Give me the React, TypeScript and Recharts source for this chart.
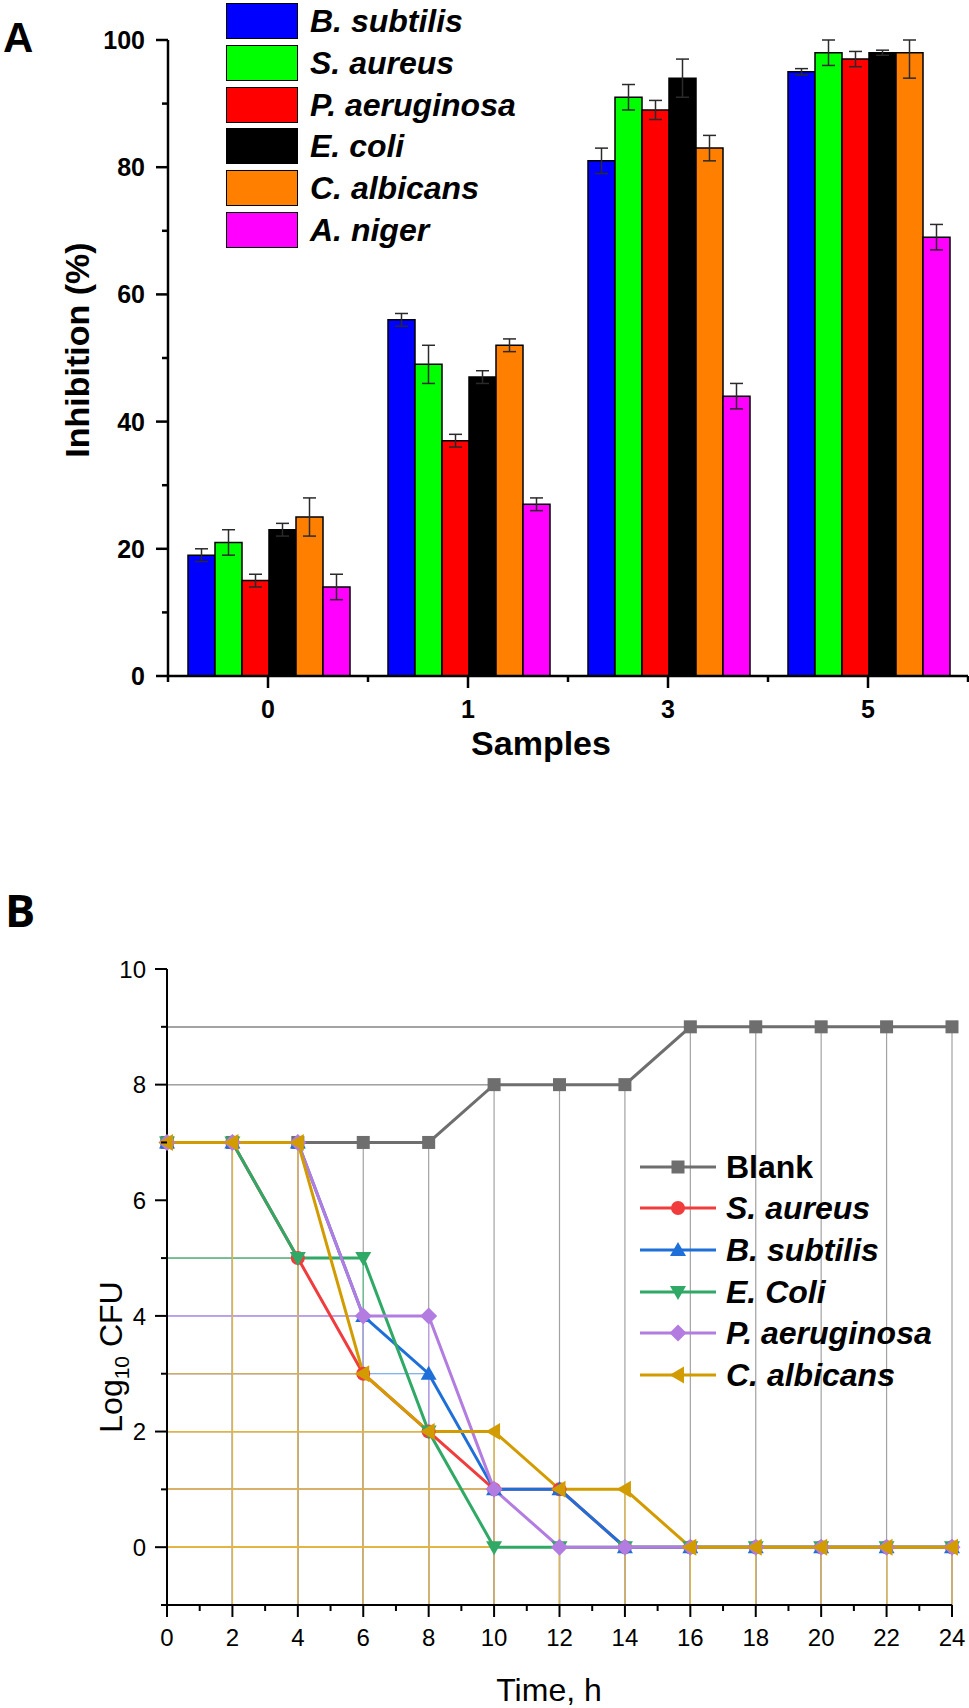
import React from 'react';
import { Bar, BarChart, ErrorBar, Label, Line, LineChart, ReferenceLine, XAxis, YAxis } from 'recharts';

// Panel A: inhibition (%) per sample
const samples = ['0', '1', '3', '5'];
const bSubtilisInh = [19, 56, 81, 95];
const bSubtilisErr = [1, 1, 2, 0.5];
const sAureusInh = [21, 49, 91, 98];
const sAureusErr = [2, 3, 2, 2];
const pAeruginosaInh = [15, 37, 89, 97];
const pAeruginosaErr = [1, 1, 1.5, 1.2];
const eColiInh = [23, 47, 94, 98];
const eColiErr = [1, 1, 3, 0.4];
const cAlbicansInh = [25, 52, 83, 98];
const cAlbicansErr = [3, 1, 2, 4];
const aNigerInh = [14, 27, 44, 69];
const aNigerErr = [2, 1, 2, 2];
const inhibitionTicks = [0, 10, 20, 30, 40, 50, 60, 70, 80, 90, 100];
const INHIBITION_MAX = 100;

// Panel B: time-kill, Log10 CFU
const hours = [0, 2, 4, 6, 8, 10, 12, 14, 16, 18, 20, 22, 24];
const blankCfu = [7, 7, 7, 7, 7, 8, 8, 8, 9, 9, 9, 9, 9];
const sAureusCfu = [7, 7, 5, 3, 2, 1, 1, 0, 0, 0, 0, 0, 0];
const bSubtilisCfu = [7, 7, 7, 4, 3, 1, 1, 0, 0, 0, 0, 0, 0];
const eColiCfu = [7, 7, 5, 5, 2, 0, 0, 0, 0, 0, 0, 0, 0];
const pAeruginosaCfu = [7, 7, 7, 4, 4, 1, 0, 0, 0, 0, 0, 0, 0];
const cAlbicansCfu = [7, 7, 7, 3, 2, 2, 1, 1, 0, 0, 0, 0, 0];
const timeTicks = [0, 1, 2, 3, 4, 5, 6, 7, 8, 9, 10, 11, 12, 13, 14, 15, 16, 17, 18, 19, 20, 21, 22, 23, 24];
const cfuTicks = [-1, 0, 1, 2, 3, 4, 5, 6, 7, 8, 9, 10];
const CFU_MIN = -1;

const FONT = '"Liberation Sans", Arial, Helvetica, sans-serif';

const barSeries = [
  { key: 'bSubtilis', name: 'B. subtilis', color: '#0000ff', values: bSubtilisInh, errors: bSubtilisErr },
  { key: 'sAureus', name: 'S. aureus', color: '#00ff00', values: sAureusInh, errors: sAureusErr },
  { key: 'pAeruginosa', name: 'P. aeruginosa', color: '#ff0000', values: pAeruginosaInh, errors: pAeruginosaErr },
  { key: 'eColi', name: 'E. coli', color: '#000000', values: eColiInh, errors: eColiErr },
  { key: 'cAlbicans', name: 'C. albicans', color: '#ff8000', values: cAlbicansInh, errors: cAlbicansErr },
  { key: 'aNiger', name: 'A. niger', color: '#ff00ff', values: aNigerInh, errors: aNigerErr },
];

const lineSeries = [
  { key: 'blank', name: 'Blank', italic: false, color: '#6e6e6e', drop: '#a2a2a2', marker: 'square', values: blankCfu },
  { key: 'sAureus', name: 'S. aureus', italic: true, color: '#f03c3c', drop: '#f27a7a', marker: 'circle', values: sAureusCfu },
  { key: 'bSubtilis', name: 'B. subtilis', italic: true, color: '#1f6fd8', drop: '#5e98e6', marker: 'up', values: bSubtilisCfu },
  { key: 'eColi', name: 'E. Coli', italic: true, color: '#30a866', drop: '#62c08e', marker: 'down', values: eColiCfu },
  { key: 'pAeruginosa', name: 'P. aeruginosa', italic: true, color: '#b27ce0', drop: '#c29ce8', marker: 'diamond', values: pAeruginosaCfu },
  { key: 'cAlbicans', name: 'C. albicans', italic: true, color: '#d29c00', drop: '#e3b540', marker: 'left', values: cAlbicansCfu },
];

// error bars are cut at the top of the axis, like the original plot
const inhibitionData = samples.map((sample, i) => {
  const row: Record<string, any> = { sample };
  barSeries.forEach((s) => {
    row[s.key] = s.values[i];
    row[`${s.key}Err`] = [s.errors[i], Math.min(s.errors[i], INHIBITION_MAX - s.values[i])];
  });
  return row;
});

const cfuData = hours.map((t, i) => {
  const row: Record<string, number> = { t };
  lineSeries.forEach((s) => {
    row[s.key] = s.values[i];
  });
  return row;
});

// chart geometry
const A_W = 969;
const A_H = 780;
const A_MARGIN = { top: 40, right: 1, bottom: 0, left: 88 };
const A_YAXIS_W = 80;
const A_BAND_HALF = (A_W - A_MARGIN.left - A_YAXIS_W - A_MARGIN.right) / samples.length / 2;

const B_TOP = 800;
const B_W = 969;
const B_H = 908;

const Marker = ({ shape, cx, cy, color }: { shape: string; cx: number; cy: number; color: string }) => {
  switch (shape) {
    case 'square':
      return <rect x={cx - 6.5} y={cy - 6.5} width={13} height={13} fill={color} />;
    case 'circle':
      return <circle cx={cx} cy={cy} r={7} fill={color} />;
    case 'up':
      return <polygon points={`${cx},${cy - 8} ${cx - 8},${cy + 6} ${cx + 8},${cy + 6}`} fill={color} />;
    case 'down':
      return <polygon points={`${cx},${cy + 8} ${cx - 8},${cy - 6} ${cx + 8},${cy - 6}`} fill={color} />;
    case 'diamond':
      return <polygon points={`${cx},${cy - 8.5} ${cx + 8.5},${cy} ${cx},${cy + 8.5} ${cx - 8.5},${cy}`} fill={color} />;
    default:
      return <polygon points={`${cx - 8.5},${cy} ${cx + 6},${cy - 8.5} ${cx + 6},${cy + 8.5}`} fill={color} />;
  }
};

const InhibitionTick = (props: any) => {
  const { x, y, payload } = props;
  const major = payload.value % 20 === 0;
  return (
    <g>
      <line x1={x} x2={x - (major ? 12 : 6)} y1={y} y2={y} stroke="#000" strokeWidth={2.5} />
      {major && (
        <text x={x - 23} y={y} dy="0.36em" textAnchor="end" fontSize={25} fontWeight="bold" fontFamily={FONT} fill="#000">
          {payload.value}
        </text>
      )}
    </g>
  );
};

const SampleTick = (props: any) => {
  const { x, y, payload, index } = props;
  const last = index === samples.length - 1;
  return (
    <g>
      <line x1={x} x2={x} y1={y} y2={y + 12} stroke="#000" strokeWidth={2.5} />
      <line x1={x - A_BAND_HALF} x2={x - A_BAND_HALF} y1={y} y2={y + 6} stroke="#000" strokeWidth={2.5} />
      {last && <line x1={x + A_BAND_HALF} x2={x + A_BAND_HALF} y1={y} y2={y + 6} stroke="#000" strokeWidth={2.5} />}
      <text x={x} y={y + 42} textAnchor="middle" fontSize={25} fontWeight="bold" fontFamily={FONT} fill="#000">
        {payload.value}
      </text>
    </g>
  );
};

const CfuTick = (props: any) => {
  const { x, y, payload } = props;
  const major = payload.value >= 0 && payload.value % 2 === 0;
  return (
    <g>
      <line x1={x} x2={x - (major ? 12 : 6)} y1={y} y2={y} stroke="#000" strokeWidth={2} />
      {major && (
        <text x={x - 21} y={y} dy="0.36em" textAnchor="end" fontSize={24} fontFamily={FONT} fill="#000">
          {payload.value}
        </text>
      )}
    </g>
  );
};

const TimeTick = (props: any) => {
  const { x, y, payload } = props;
  const major = payload.value % 2 === 0;
  return (
    <g>
      <line x1={x} x2={x} y1={y} y2={y + (major ? 12 : 6)} stroke="#000" strokeWidth={2} />
      {major && (
        <text x={x} y={y + 41} textAnchor="middle" fontSize={24} fontFamily={FONT} fill="#000">
          {payload.value}
        </text>
      )}
    </g>
  );
};

const App: React.FC = () => {
  return (
    <div style={{ position: 'absolute', left: 0, top: 0, width: 969, height: 1708, background: '#fff', fontFamily: FONT, overflow: 'hidden' }}>
      {/* Panel A */}
      <div style={{ position: 'absolute', left: 0, top: 0 }}>
        <BarChart width={A_W} height={A_H} data={inhibitionData} margin={A_MARGIN} barCategoryGap="10%" barGap={0}>
          <XAxis
            dataKey="sample"
            height={A_H - 676}
            interval={0}
            tickSize={0}
            tickMargin={0}
            tick={(p: any) => <SampleTick {...p} />}
            axisLine={{ stroke: '#000', strokeWidth: 2.5 }}
            tickLine={false}
          >
            <Label
              content={() => (
                <text x={541} y={755} textAnchor="middle" fontSize={34} fontWeight="bold" fontFamily={FONT} fill="#000">
                  Samples
                </text>
              )}
            />
          </XAxis>
          <YAxis
            width={A_YAXIS_W}
            type="number"
            domain={[0, INHIBITION_MAX]}
            allowDataOverflow
            ticks={inhibitionTicks}
            interval={0}
            tickSize={0}
            tickMargin={0}
            tick={(p: any) => <InhibitionTick {...p} />}
            axisLine={{ stroke: '#000', strokeWidth: 2.5 }}
            tickLine={false}
          >
            <Label
              content={() => (
                <text transform="translate(89,350) rotate(-90)" textAnchor="middle" fontSize={34} fontWeight="bold" fontFamily={FONT} fill="#000">
                  Inhibition (%)
                </text>
              )}
            />
          </YAxis>
          {barSeries.map((s) => (
            <Bar key={s.key} dataKey={s.key} name={s.name} fill={s.color} stroke="#000" strokeWidth={1.5} isAnimationActive={false}>
              <ErrorBar dataKey={`${s.key}Err`} width={6.5} stroke="#2a2a2a" strokeWidth={1.5} />
            </Bar>
          ))}
        </BarChart>
      </div>

      {/* Panel A legend */}
      {barSeries.map((s, i) => (
        <div key={s.key} style={{ position: 'absolute', left: 226, top: 3.3 + i * 41.7, height: 36, display: 'flex', alignItems: 'center' }}>
          <div style={{ width: 72, height: 36, boxSizing: 'border-box', background: s.color, border: '1.5px solid #000' }} />
          <span style={{ marginLeft: 12, fontSize: 32, fontWeight: 'bold', fontStyle: 'italic', lineHeight: '36px', color: '#000', whiteSpace: 'nowrap' }}>
            {s.name}
          </span>
        </div>
      ))}

      {/* Panel B */}
      <div style={{ position: 'absolute', left: 0, top: B_TOP }}>
        <LineChart width={B_W} height={B_H} data={cfuData} margin={{ top: 169, right: 17, bottom: 0, left: 80 }}>
          <XAxis
            dataKey="t"
            type="number"
            domain={[0, 24]}
            ticks={timeTicks}
            interval={0}
            height={103}
            tickSize={0}
            tickMargin={0}
            tick={(p: any) => <TimeTick {...p} />}
            axisLine={{ stroke: '#000', strokeWidth: 2 }}
            tickLine={false}
          >
            <Label
              content={() => (
                <text x={549} y={901} textAnchor="middle" fontSize={32} fontFamily={FONT} fill="#000">
                  Time, h
                </text>
              )}
            />
          </XAxis>
          <YAxis
            type="number"
            width={87}
            domain={[CFU_MIN, 10]}
            allowDataOverflow
            ticks={cfuTicks}
            interval={0}
            tickSize={0}
            tickMargin={0}
            tick={(p: any) => <CfuTick {...p} />}
            axisLine={{ stroke: '#000', strokeWidth: 2 }}
            tickLine={false}
          >
            <Label
              content={() => (
                <text transform="translate(122,557) rotate(-90)" textAnchor="middle" fontSize={32} fontFamily={FONT} fill="#000">
                  <tspan>Log</tspan>
                  <tspan fontSize={21} dy={7}>10</tspan>
                  <tspan dy={-7}> CFU</tspan>
                </text>
              )}
            />
          </YAxis>
          {/* drop lines from every point to both axes */}
          {lineSeries.flatMap((s) =>
            hours.flatMap((t, i) => [
              <ReferenceLine
                key={`${s.key}-h-${t}`}
                segment={[{ x: 0, y: s.values[i] }, { x: t, y: s.values[i] }]}
                stroke={s.drop}
                strokeWidth={1.2}
                ifOverflow="visible"
              />,
              <ReferenceLine
                key={`${s.key}-v-${t}`}
                segment={[{ x: t, y: s.values[i] }, { x: t, y: CFU_MIN }]}
                stroke={s.drop}
                strokeWidth={1.2}
                ifOverflow="visible"
              />,
            ]),
          )}
          {lineSeries.map((s) => (
            <Line
              key={s.key}
              dataKey={s.key}
              name={s.name}
              type="linear"
              stroke={s.color}
              strokeWidth={3}
              isAnimationActive={false}
              activeDot={false}
              dot={(p: any) => <Marker key={`${s.key}-${p.index}`} shape={s.marker} cx={p.cx} cy={p.cy} color={s.color} />}
            />
          ))}
        </LineChart>
      </div>

      {/* Panel B legend */}
      {lineSeries.map((s, i) => (
        <div key={s.key} style={{ position: 'absolute', left: 640, top: 1166.7 + i * 41.67 - 20, height: 40, display: 'flex', alignItems: 'center' }}>
          <svg width={76} height={40} style={{ display: 'block' }}>
            <line x1={0} x2={76} y1={20} y2={20} stroke={s.color} strokeWidth={3} />
            <Marker shape={s.marker} cx={38} cy={20} color={s.color} />
          </svg>
          <span style={{ marginLeft: 10, fontSize: 32, fontWeight: 'bold', fontStyle: s.italic ? 'italic' : 'normal', lineHeight: '40px', color: '#000', whiteSpace: 'nowrap' }}>
            {s.name}
          </span>
        </div>
      ))}

      {/* panel letters */}
      <svg width={969} height={1708} style={{ position: 'absolute', left: 0, top: 0, pointerEvents: 'none' }}>
        <text x={3} y={52} fontSize={42} fontWeight="bold" fontFamily={FONT} fill="#000">A</text>
        <text x={5} y={927} fontSize={45} fontWeight="bold" fontFamily='"Open Sans", sans-serif' fill="#000">B</text>
      </svg>
    </div>
  );
};

export default App;
